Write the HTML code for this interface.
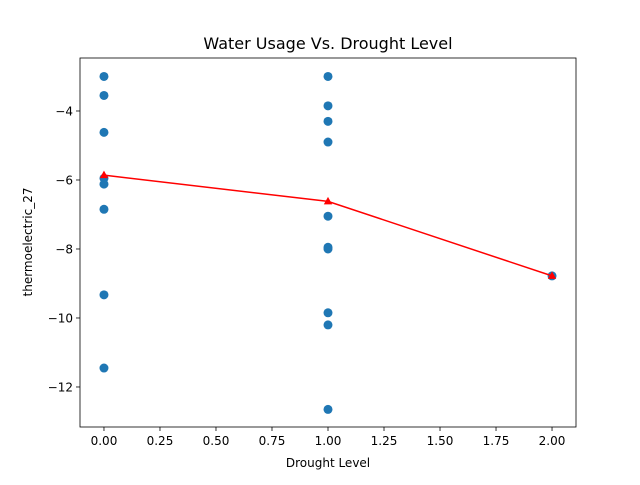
<!DOCTYPE html>
<html><head><meta charset="utf-8"><style>
body{margin:0;background:#fff;font-family:"Liberation Sans","DejaVu Sans",sans-serif}
svg text{font-family:"DejaVu Sans","Liberation Sans",sans-serif}
</style></head><body>
<svg id="chart" width="640" height="480" xmlns="http://www.w3.org/2000/svg"></svg>
<script>
const xTicks=[0,0.25,0.5,0.75,1.0,1.25,1.5,1.75,2.0];
const xTickLabels=["0.00","0.25","0.50","0.75","1.00","1.25","1.50","1.75","2.00"];
const yTicks=[-12,-10,-8,-6,-4];
const yTickLabels=["\u221212","\u221210","\u22128","\u22126","\u22124"];
const scatterX=[0,0,0,0,0,0,0,0,1,1,1,1,1,1,1,1,1,1,2];
const scatterY=[-3.0,-3.55,-4.62,-5.95,-6.12,-6.85,-9.33,-11.45,-3.0,-3.85,-4.3,-4.9,-7.05,-7.95,-8.0,-9.85,-10.2,-12.65,-8.78];
const meanX=[0,1,2];
const meanY=[-5.86,-6.62,-8.78];
const L=80,R=576,T=58,B=427,x0=-0.107,x1=2.107,y0=-13.16,y1=-2.464;
const sx=v=>L+(v-x0)/(x1-x0)*(R-L);
const sy=v=>B-(v-y0)/(y1-y0)*(B-T);
const svg=document.getElementById('chart');
const NS='http://www.w3.org/2000/svg';
function mk(tag,attrs,parent){const e=document.createElementNS(NS,tag);for(const k in attrs)e.setAttribute(k,attrs[k]);(parent||svg).appendChild(e);return e;}
let t=mk('text',{x:328,y:49,'text-anchor':'middle','font-size':16});t.textContent='Water Usage Vs. Drought Level';


xTicks.forEach((v,i)=>{
  const l=mk('line',{x1:sx(v),x2:sx(v),y1:B,y2:B+4,stroke:'#000','stroke-width':0.8});
  
  
  const tx=mk('text',{x:sx(v),y:B+18,'text-anchor':'middle','font-size':12});tx.textContent=xTickLabels[i];
  
  
});
yTicks.forEach((v,i)=>{
  const l=mk('line',{x1:L-4,x2:L,y1:sy(v),y2:sy(v),stroke:'#000','stroke-width':0.8});
  
  
  const tx=mk('text',{x:L-7,y:sy(v)+4.5,'text-anchor':'end','font-size':12});tx.textContent=yTickLabels[i];
  
  
});
let xl=mk('text',{x:328,y:467,'text-anchor':'middle','font-size':12});xl.textContent='Drought Level';


let yl=mk('text',{x:0,y:0,'text-anchor':'middle','font-size':12,transform:'translate(32,242) rotate(-90)'});yl.textContent='thermoelectric_27';


scatterX.forEach((v,i)=>{
  const c=mk('circle',{cx:sx(v),cy:sy(scatterY[i]),r:4.5,fill:'#1f77b4'});
  
  
});
const pl=mk('polyline',{points:meanX.map((v,i)=>sx(v)+','+sy(meanY[i])).join(' '),fill:'none',stroke:'red','stroke-width':1.5});


meanX.forEach((v,i)=>{
  const cx=sx(v),cy=sy(meanY[i]);
  const p=mk('polygon',{points:`${cx},${cy-4.5} ${cx-4.2},${cy+3} ${cx+4.2},${cy+3}`,fill:'red'});
  
  
});
const fr=mk('rect',{x:L,y:T,width:R-L,height:B-T,fill:'none',stroke:'#000','stroke-width':0.8});


</script>
</body></html>
